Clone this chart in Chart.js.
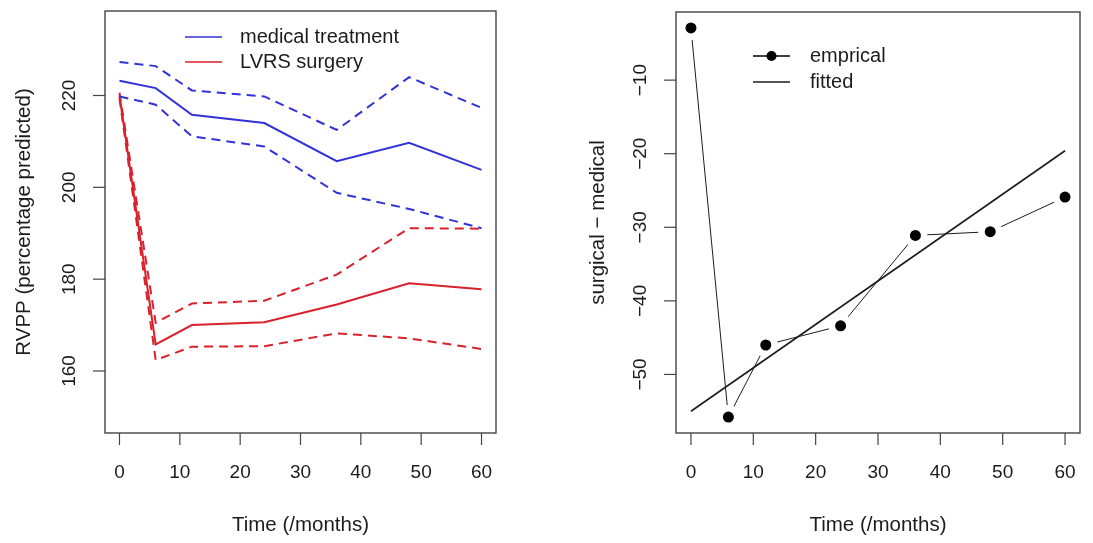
<!DOCTYPE html>
<html>
<head>
<meta charset="utf-8">
<title>RVPP by treatment</title>
<script src="https://cdn.jsdelivr.net/npm/chart.js@4.4.1/dist/chart.umd.min.js"></script>
<style>
  body { margin: 0; background: #fff; }
  .pane { position: absolute; top: 0; height: 543px; }
  #pane-left { left: 0; width: 546px; }
  #pane-right { left: 546px; width: 547px; }
</style>
</head>
<body>
<div class="pane" id="pane-left"><canvas id="chart-rvpp" width="546" height="543"></canvas></div>
<div class="pane" id="pane-right"><canvas id="chart-diff" width="547" height="543"></canvas></div>
<script>
'use strict';

// follow-up times (months)
var months = [0, 6, 12, 24, 36, 48, 60];

// RVPP, medical arm: mean and band
var medical      = [223.2, 221.6, 215.8, 214.0, 205.7, 209.7, 203.8];
var medicalUpper = [227.3, 226.4, 221.1, 219.8, 212.5, 224.0, 217.3];
var medicalLower = [219.8, 218.0, 211.1, 208.9, 198.8, 195.3, 191.1];

// RVPP, LVRS arm: mean and band
var surgery      = [220.0, 165.8, 170.0, 170.6, 174.5, 179.1, 177.8];
var surgeryUpper = [220.6, 170.5, 174.7, 175.3, 181.0, 191.1, 191.0];
var surgeryLower = [219.4, 162.4, 165.3, 165.4, 168.2, 167.1, 164.8];

// surgical - medical difference
var empirical = [-2.9, -55.8, -46.0, -43.4, -31.1, -30.6, -25.9];
var fittedMonths = [0, 60];
var fitted = [-55.0, -19.6];

// tick labels
var monthTicks = [0, 10, 20, 30, 40, 50, 60];
var rvppTicks = [160, 180, 200, 220];
var diffTicks = [-50, -40, -30, -20, -10];

var BLUE = '#3232d8';
var RED = '#d9212c';
var INK = '#1c1c1c';
var FONT = '"Liberation Sans", Arial, sans-serif';

function pts(xs, ys) {
  return xs.map(function (x, i) { return { x: x, y: ys[i] }; });
}

//--- base-graphics style frame: box, outward ticks, rotated y labels
var rFrame = {
  id: 'rFrame',
  afterDraw: function (chart, args, opts) {
    var ctx = chart.ctx, a = chart.chartArea;
    var sx = chart.scales.x, sy = chart.scales.y;
    ctx.save();
    ctx.strokeStyle = '#444';
    ctx.lineWidth = 1.4;
    ctx.strokeRect(a.left, a.top, a.right - a.left, a.bottom - a.top);

    ctx.fillStyle = INK;
    ctx.font = '19px ' + FONT;
    ctx.lineWidth = 1.2;
    opts.xTicks.forEach(function (v) {
      var px = sx.getPixelForValue(v);
      ctx.beginPath();
      ctx.moveTo(px, a.bottom);
      ctx.lineTo(px, a.bottom + 12);
      ctx.stroke();
      ctx.textAlign = 'center';
      ctx.textBaseline = 'middle';
      ctx.fillText(String(v), px, a.bottom + 40);
    });
    opts.yTicks.forEach(function (v) {
      var py = sy.getPixelForValue(v);
      ctx.beginPath();
      ctx.moveTo(a.left, py);
      ctx.lineTo(a.left - 12, py);
      ctx.stroke();
      ctx.save();
      ctx.translate(a.left - 35, py);
      ctx.rotate(-Math.PI / 2);
      ctx.textAlign = 'center';
      ctx.textBaseline = 'middle';
      ctx.fillText(String(v).replace('-', '\u2212'), 0, 0);
      ctx.restore();
    });

    ctx.font = '20.5px ' + FONT;
    ctx.textAlign = 'center';
    ctx.textBaseline = 'middle';
    ctx.fillText(opts.xTitle, (a.left + a.right) / 2, 525);
    ctx.save();
    ctx.translate(opts.yTitleX, (a.top + a.bottom) / 2);
    ctx.rotate(-Math.PI / 2);
    ctx.textBaseline = 'alphabetic';
    ctx.fillText(opts.yTitle, 0, 0);
    ctx.restore();
    ctx.restore();
  }
};

//--- boxed-less legend drawn inside the plot
var rLegend = {
  id: 'rLegend',
  afterDraw: function (chart, args, opts) {
    var ctx = chart.ctx;
    ctx.save();
    ctx.font = '20px ' + FONT;
    ctx.textAlign = 'left';
    ctx.textBaseline = 'middle';
    opts.items.forEach(function (it, i) {
      var y = opts.y + i * opts.rowGap;
      ctx.strokeStyle = it.color;
      ctx.lineWidth = 1.3;
      ctx.beginPath();
      ctx.moveTo(opts.x, y);
      ctx.lineTo(opts.x + opts.lineLen, y);
      ctx.stroke();
      if (it.dot) {
        ctx.fillStyle = it.color;
        ctx.beginPath();
        ctx.arc(opts.x + opts.lineLen / 2, y, 5, 0, Math.PI * 2);
        ctx.fill();
      }
      ctx.fillStyle = INK;
      ctx.fillText(it.label, opts.textX, y);
    });
    ctx.restore();
  }
};

function lineSet(ys, color, dashed) {
  return {
    data: pts(months, ys),
    borderColor: color,
    borderWidth: 2,
    borderDash: dashed ? [9, 6] : [],
    pointRadius: 0,
    tension: 0,
    fill: false
  };
}

//--- 1: RVPP by treatment arm
function rvpp_chart() {
  var config = {
    type: 'line',
    data: {
      datasets: [
        lineSet(medicalUpper, BLUE, true),
        lineSet(medicalLower, BLUE, true),
        lineSet(medical, BLUE, false),
        lineSet(surgeryUpper, RED, true),
        lineSet(surgeryLower, RED, true),
        lineSet(surgery, RED, false)
      ]
    },
    options: {
      responsive: false,
      animation: false,
      layout: { padding: { left: 105, top: 11, right: 50, bottom: 110 } },
      scales: {
        x: { type: 'linear', min: -2.4, max: 62.4, display: false },
        y: { type: 'linear', min: 146.5, max: 238.4, display: false }
      },
      plugins: {
        legend: { display: false },
        tooltip: { enabled: false },
        rFrame: {
          xTicks: monthTicks, yTicks: rvppTicks,
          xTitle: 'Time (/months)', yTitle: 'RVPP (percentage predicted)', yTitleX: 30
        },
        rLegend: {
          x: 185, lineLen: 37, textX: 240, y: 37, rowGap: 25,
          items: [
            { label: 'medical treatment', color: BLUE },
            { label: 'LVRS surgery', color: RED }
          ]
        }
      }
    },
    plugins: [rFrame, rLegend]
  };
  var ctx = document.getElementById('chart-rvpp').getContext('2d');
  window.chartRvpp = new Chart(ctx, config);
}

//--- 2: surgical minus medical, with linear fit
function diff_chart() {
  var config = {
    type: 'line',
    data: {
      datasets: [{
        // connecting segments
        data: pts(months, empirical),
        borderColor: INK,
        borderWidth: 1,
        pointRadius: 0,
        tension: 0,
        order: 3
      }, {
        // white halo so segments stop short of the dots
        data: pts(months, empirical),
        showLine: false,
        pointRadius: 12,
        pointBorderWidth: 0,
        pointBackgroundColor: '#fff',
        order: 2
      }, {
        data: pts(months, empirical),
        showLine: false,
        pointRadius: 5.5,
        pointBorderWidth: 0,
        pointBackgroundColor: '#000',
        order: 1
      }, {
        data: pts(fittedMonths, fitted),
        borderColor: INK,
        borderWidth: 1.6,
        pointRadius: 0,
        tension: 0,
        order: 0
      }]
    },
    options: {
      responsive: false,
      animation: false,
      layout: { padding: { left: 130, top: 11, right: 13, bottom: 110 } },
      scales: {
        x: { type: 'linear', min: -2.4, max: 62.4, display: false },
        y: { type: 'linear', min: -57.96, max: -0.74, display: false }
      },
      plugins: {
        legend: { display: false },
        tooltip: { enabled: false },
        rFrame: {
          xTicks: monthTicks, yTicks: diffTicks,
          xTitle: 'Time (/months)', yTitle: 'surgical \u2212 medical', yTitleX: 58
        },
        rLegend: {
          x: 207, lineLen: 37, textX: 264, y: 56, rowGap: 26,
          items: [
            { label: 'emprical', color: '#000', dot: true },
            { label: 'fitted', color: INK }
          ]
        }
      }
    },
    plugins: [rFrame, rLegend]
  };
  var ctx = document.getElementById('chart-diff').getContext('2d');
  window.chartDiff = new Chart(ctx, config);
}

if (document.getElementById('chart-rvpp')) {
  rvpp_chart();
}
if (document.getElementById('chart-diff')) {
  diff_chart();
}
</script>
</body>
</html>
